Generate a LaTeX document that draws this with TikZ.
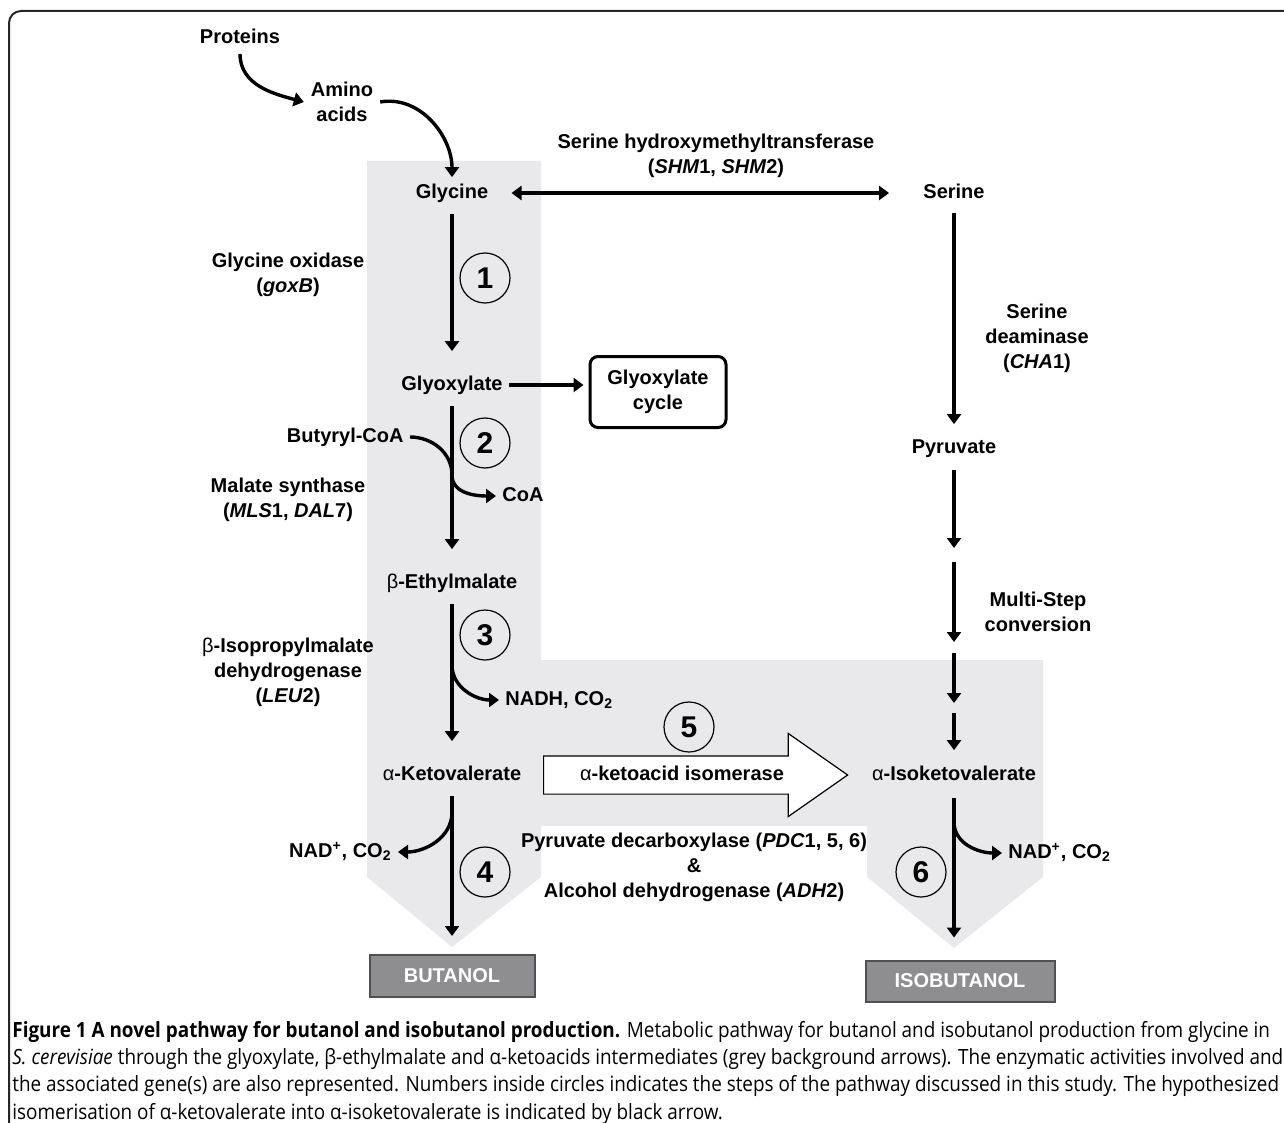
\documentclass[tikz,border=0pt]{standalone}
\usepackage{fontspec}
\setmainfont{Liberation Sans}
\newfontfamily\capfont[FakeStretch=0.9]{Open Sans}
\usetikzlibrary{arrows.meta, shapes.arrows}
\definecolor{pathgrey}{RGB}{233,233,235}
\definecolor{prodgrey}{RGB}{142,142,145}
\definecolor{prodedge}{RGB}{80,80,82}

\begin{document}
\begin{tikzpicture}[
    x=0.5pt, y=-0.5pt,
    met/.style={font=\fontsize{10}{12.5}\selectfont\bfseries, inner sep=3pt, text height=7.5pt, text depth=2pt},
    enz/.style={font=\fontsize{10}{12.5}\selectfont\bfseries, align=center},
    stepnum/.style={circle, draw, line width=0.6pt, minimum size=25pt, inner sep=0pt, font=\fontsize{15}{15}\selectfont\bfseries},
    prod/.style={draw=prodedge, line width=1pt, fill=prodgrey, text=white, font=\fontsize{10}{12}\selectfont\bfseries},
    arr/.style={line width=1.7pt, -{Triangle[length=5pt,width=7pt]}},
    dblarr/.style={line width=1.7pt, {Triangle[length=5pt,width=7pt]}-{Triangle[length=5pt,width=7pt]}},
    down/.style={arr, shorten <=2.5pt, shorten >=9pt}
]
    \useasboundingbox (0,0) rectangle (1284,1123);
    % frame
    \draw[line width=1pt, rounded corners=6pt, black!85] (9,1123) -- (9,11) -- (1284,11);

    % grey pathway background
    \fill[pathgrey] (367,161) -- (541,161) -- (541,660) -- (1043,660) -- (1043,877)
        -- (954,948) -- (867,877) -- (867,826) -- (541,826) -- (541,877)
        -- (452,947) -- (367,877) -- cycle;

    % metabolites
    \node (prot) [met] at (240,38) {Proteins};
    \node (amino) [enz] at (342,102) {Amino\\acids};
    \node (gly) [met] at (452,193) {Glycine};
    \node (glyox) [met] at (452,385) {Glyoxylate};
    \node (cycle) [enz, draw, line width=1.5pt, rounded corners=4pt, minimum width=68pt, minimum height=35.5pt] at (658,392) {Glyoxylate\\cycle};
    \node (bcoa) [met, anchor=east] at (410,437) {Butyryl-CoA};
    \node (coa) [met, anchor=west] at (496,496) {CoA};
    \node (ethyl) [met] at (452,583) {{\mdseries β}-Ethylmalate};
    \node (nadh) [met, anchor=west] at (499,700) {NADH, CO\textsubscript{2}};
    \node (aket) [met] at (452,775) {{\mdseries α}-Ketovalerate};
    \node (nadl) [met, anchor=east] at (398,852) {NAD\textsuperscript{+}, CO\textsubscript{2}};
    \node (ser) [met] at (954,193) {Serine};
    \node (pyr) [met] at (954,448) {Pyruvate};
    \node (isok) [met] at (954,775) {{\mdseries α}-Isoketovalerate};
    \node (nadr) [met, anchor=west] at (1002,853) {NAD\textsuperscript{+}, CO\textsubscript{2}};
    \node (but) [prod, minimum width=82.5pt, minimum height=21pt] at (452,976) {BUTANOL};
    \node (isob) [prod, minimum width=94.5pt, minimum height=20.5pt] at (960,981) {ISOBUTANOL};

    % enzymes
    \node (goxb) [enz] at (288,275) {Glycine oxidase\\(\textit{goxB})};
    \node (mls) [enz] at (288,500) {Malate synthase\\(\textit{MLS}1, \textit{DAL}7)};
    \node (leu) [enz] at (288,672) {{\mdseries β}-Isopropylmalate\\dehydrogenase\\(\textit{LEU}2)};
    \node (shm) [enz] at (716,156) {Serine hydroxymethyltransferase\\(\textit{SHM}1, \textit{SHM}2)};
    \node (cha) [enz] at (1037,338) {Serine\\deaminase\\(\textit{CHA}1)};
    \node (multi) [enz] at (1038,612) {Multi-Step\\conversion};
    \node (pdc) [enz] at (694,867) {Pyruvate decarboxylase (\textit{PDC}1, 5, 6)\\\&\\Alcohol dehydrogenase (\textit{ADH}2)};

    % isomerase arrow
    \node (isom) [single arrow, draw, line width=0.6pt, fill=white, single arrow head extend=11.25pt,
        single arrow tip angle=70, minimum height=152pt, inner xsep=4pt, inner ysep=4.5pt,
        text height=7.5pt, text depth=2pt, font=\fontsize{10}{12}\selectfont\bfseries, anchor=tail]
        at (543,775) {{\mdseries α}-ketoacid isomerase};

    % step numbers
    \node (s1) [stepnum] at (485,278) {1};
    \node (s2) [stepnum] at (485,443) {2};
    \node (s3) [stepnum] at (485,635) {3};
    \node (s4) [stepnum] at (485,872) {4};
    \node (s5) [stepnum] at (689,727) {5};
    \node (s6) [stepnum] at (921,872) {6};

    % junctions and gaps
    \coordinate (j2) at (452,475);
    \coordinate (j3) at (452,665);
    \coordinate (j4) at (452,812);
    \coordinate (j6) at (954,822);
    \coordinate (ms1) at (954,548);
    \coordinate (ms2) at (954,562);
    \coordinate (ms3) at (954,642);
    \coordinate (ms4) at (954,653);
    \coordinate (ms5) at (954,703);
    \coordinate (ms6) at (954,713);

    % connectors
    \draw[arr] (prot.south) to[out=-90,in=165] (amino.west);
    \draw[arr] (amino.east) to[out=10,in=90] (gly.north);
    \draw[dblarr, shorten <=8.5pt, shorten >=14pt] (gly.east) -- (ser.west);
    \draw[arr, shorten >=2.5pt] (glyox.east) -- (glyox.east -| cycle.west);
    \draw[down] (gly) -- (glyox);
    \draw[down] (glyox) -- (ethyl);
    \draw[down] (ethyl) -- (aket);
    \draw[down] (aket) -- (but);
    \draw[arr] (bcoa.east) to[out=0,in=90] (j2) to[out=-90,in=180] (coa.west);
    \draw[arr] (j3) to[out=-90,in=180] (nadh.west);
    \draw[arr] (j4) to[out=-90,in=0] (nadl.east);
    \draw[arr, shorten <=2pt, shorten >=4pt] (ser) -- (pyr);
    \draw[arr, shorten <=3pt] (pyr) -- (ms1);
    \draw[arr] (ms2) -- (ms3);
    \draw[arr] (ms4) -- (ms5);
    \draw[arr, shorten >=4.5pt] (ms6) -- (isok);
    \draw[arr, shorten <=3.5pt, shorten >=11pt] (isok.south) -- (isok.south |- isob.north);
    \draw[arr] (j6) to[out=-90,in=180] (nadr.west);

    % caption
    \node (cap) [anchor=north west, align=left, inner sep=0pt, font=\capfont\fontsize{10.5}{13.6}\selectfont] at (12,1021)
        {\textbf{Figure 1 A novel pathway for butanol and isobutanol production.} Metabolic pathway for butanol and isobutanol production from glycine in\\
        \textit{S. cerevisiae} through the glyoxylate, β-ethylmalate and α-ketoacids intermediates (grey background arrows). The enzymatic activities involved and\\
        the associated gene(s) are also represented. Numbers inside circles indicates the steps of the pathway discussed in this study. The hypothesized\\
        isomerisation of α-ketovalerate into α-isoketovalerate is indicated by black arrow.};
\end{tikzpicture}
\end{document}
